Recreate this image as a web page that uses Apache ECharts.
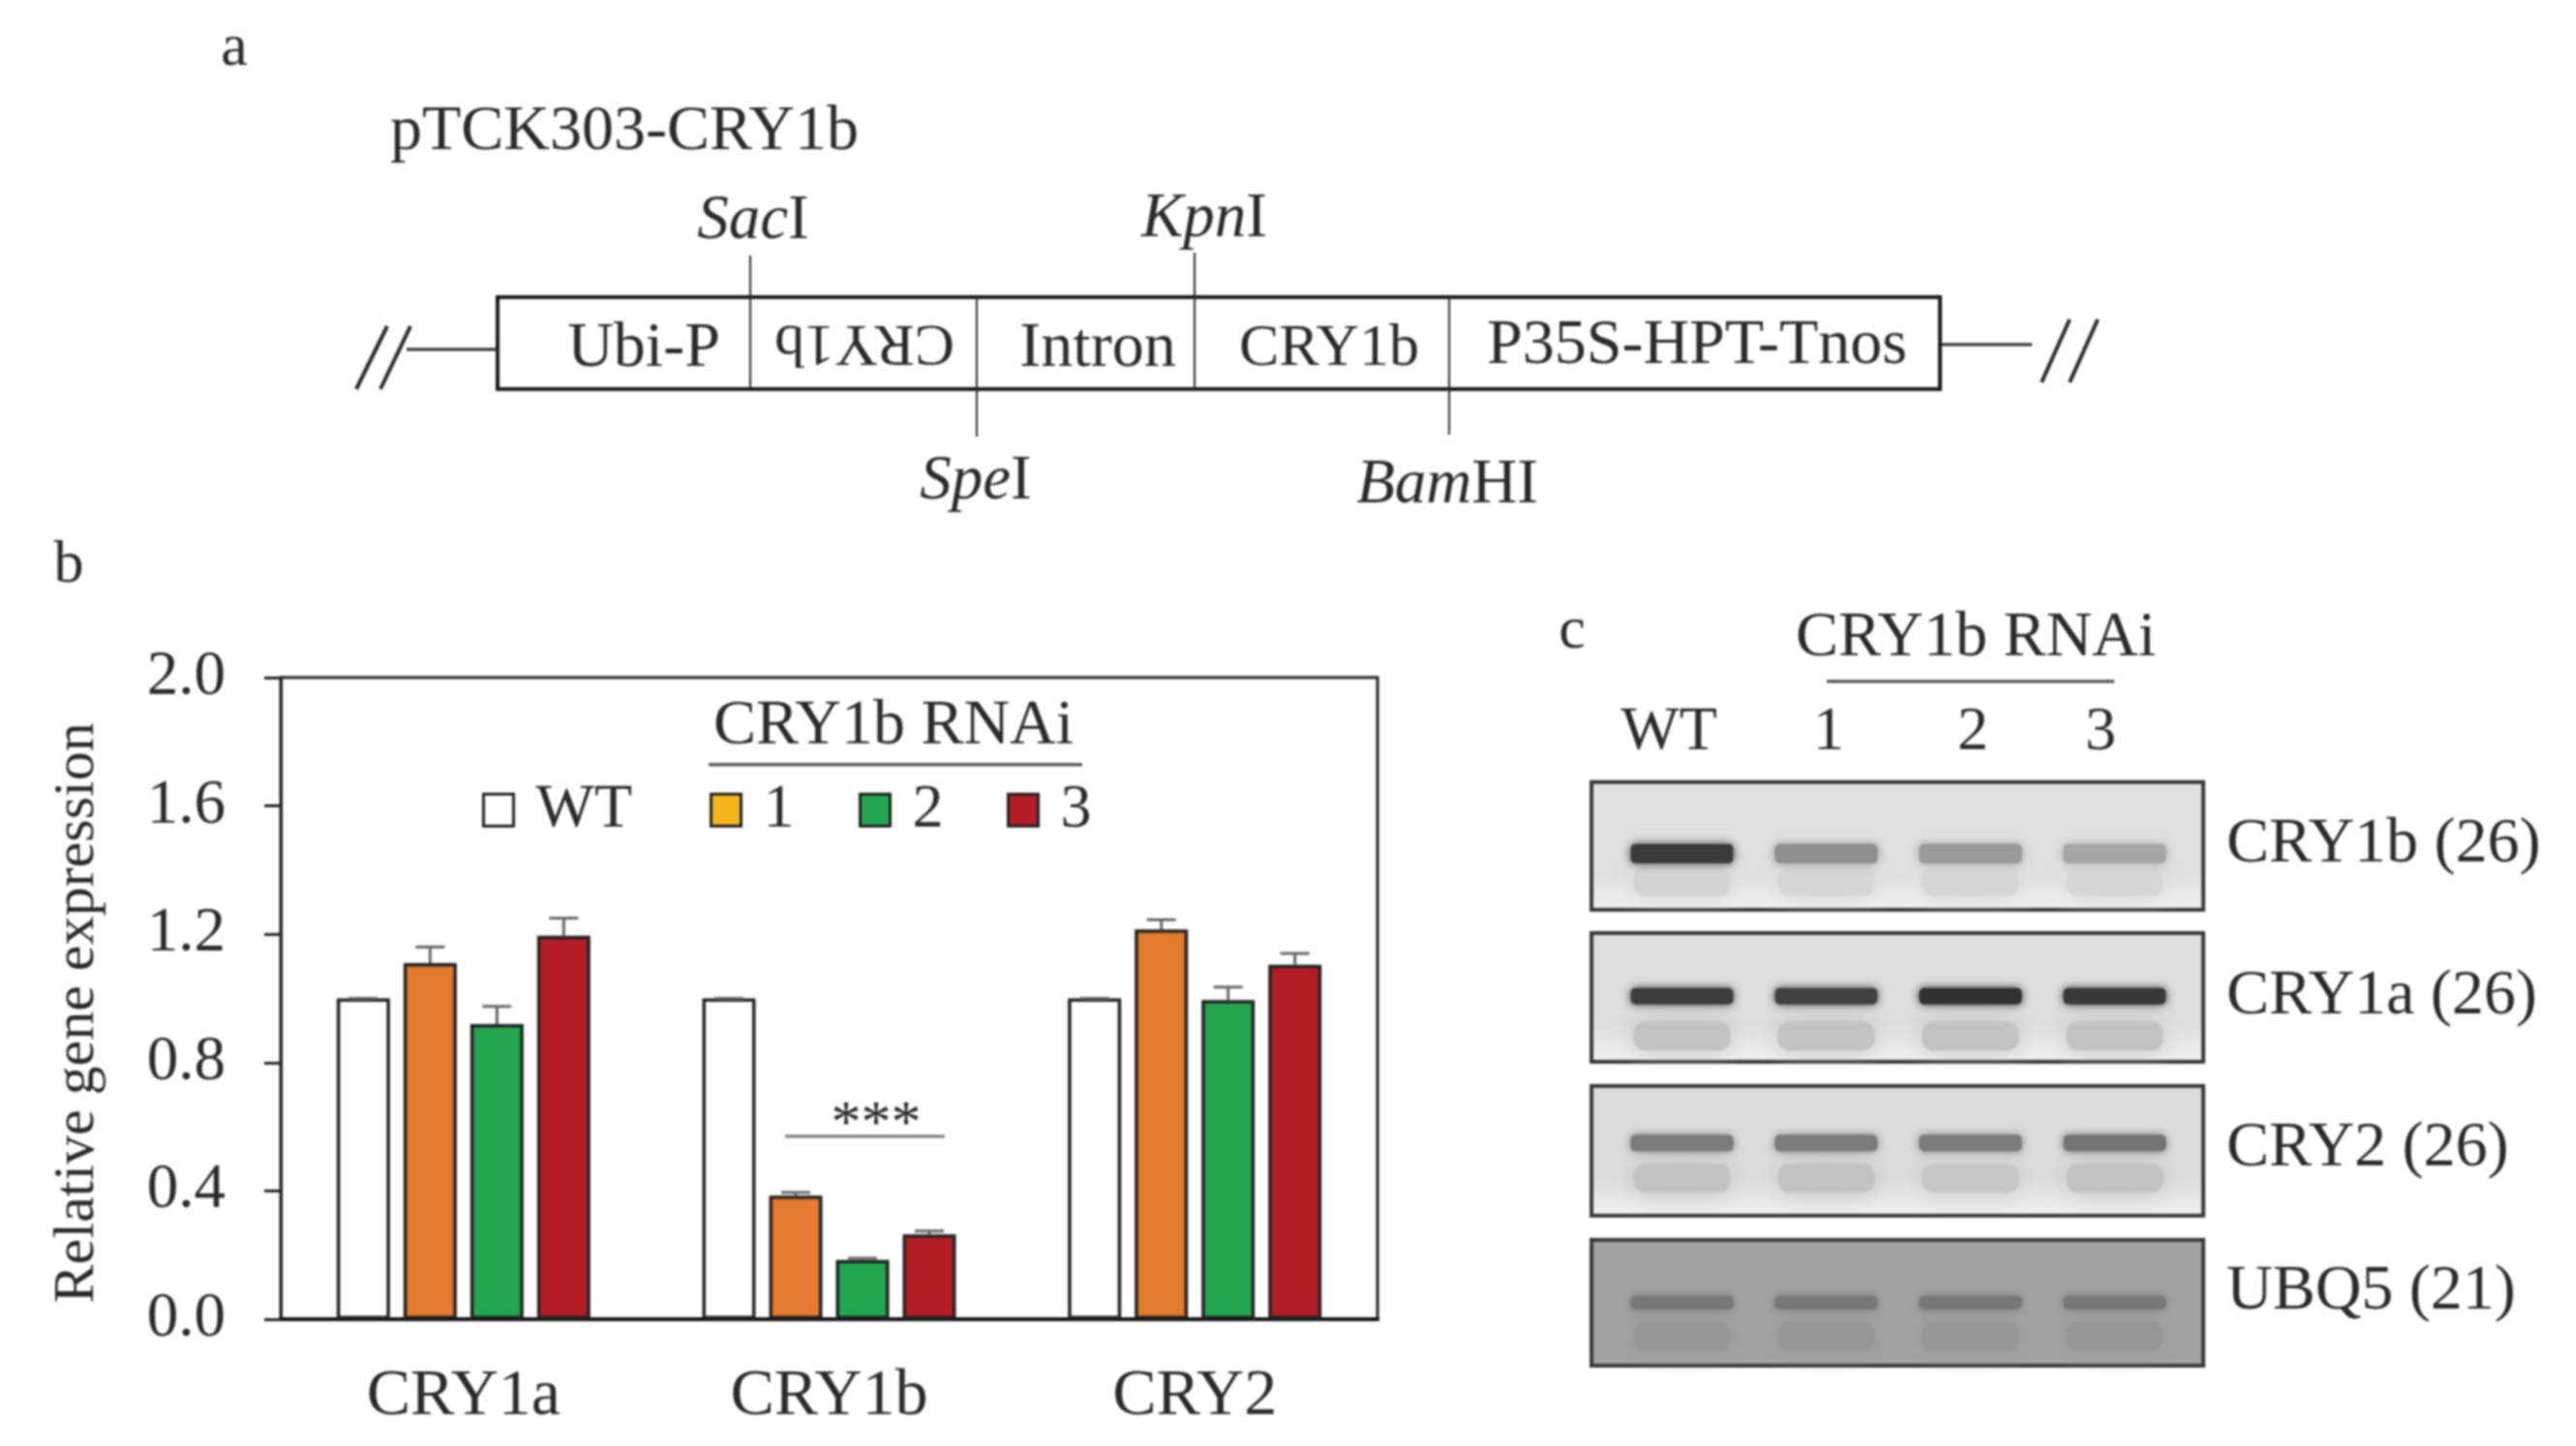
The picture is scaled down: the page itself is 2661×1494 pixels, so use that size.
<!DOCTYPE html>
<html><head><meta charset="utf-8">
<style>html,body{margin:0;padding:0;background:#fff}#c{width:2661px;height:1494px;filter:blur(0.8px)}</style>
<script src="https://cdn.jsdelivr.net/npm/echarts@6/dist/echarts.min.js"></script>
</head><body><div id="c"></div>
<script>
const genes = ['CRY1a', 'CRY1b', 'CRY2'];
const wt = [1, 1, 1];
const line1 = [1.11, 0.385, 1.215];
const line2 = [0.92, 0.185, 0.995];
const line3 = [1.195, 0.265, 1.105];
const wtErr = [0, 0, 0];
const line1Err = [0.05, 0.01, 0.03];
const line2Err = [0.055, 0.005, 0.04];
const line3Err = [0.055, 0.01, 0.035];
const yTicks = { min: 0, max: 2, interval: 0.4 };
const seriesNames = ['WT', '1', '2', '3'];
const lanes = ['WT', '1', '2', '3'];
const gelNames = ['CRY1b (26)', 'CRY1a (26)', 'CRY2 (26)', 'UBQ5 (21)'];
const gelMain = [
  [0.85, 0.42, 0.36, 0.30],
  [0.84, 0.82, 0.90, 0.86],
  [0.52, 0.52, 0.52, 0.56],
  [0.32, 0.32, 0.32, 0.32]
];
const gelFaint = [
  [0.06, 0.05, 0.05, 0.05],
  [0.15, 0.15, 0.15, 0.15],
  [0.15, 0.15, 0.13, 0.15],
  [0.08, 0.08, 0.08, 0.08]
];

/* ---- layout and style, separate from the values ---- */
const FONT = '"Liberation Serif","Times New Roman",serif';
const INK = '#2a2a2a';
const PLOT = { left: 290, right: 1423, top: 700, bottom: 1363 };
const BAR_W = 55, BAR_GAP = 14, PITCH = BAR_W + BAR_GAP;
const barColors = ['#ffffff', '#e27b2f', '#22a650', '#b21c25'];
const legendSwatch = ['#ffffff', '#f4b61c', '#22a650', '#b21c25'];
const legendPos = [[498, 805], [733, 805], [887, 805], [1040, 805]];
const panels = [[808, 940], [964, 1097], [1122, 1256], [1281, 1411]];
const panelFill = ['#e0e0e0', '#dedede', '#dcdcdc', '#a2a2a2'];
const mainY = [0.56, 0.49, 0.44, 0.50];
const faintY = [0.78, 0.80, 0.71, 0.77];
const mainH = [20, 17, 17, 14];
const LANE_LEFT = 1663, LANE_W = 149;
const SMALL = 66;

function T(x, y, text, size, extra) {
  return { type: 'text', x, y: y + 3, z: 10, style: Object.assign({
    text, fill: INK, font: size + 'px ' + FONT, align: 'center', verticalAlign: 'middle' }, extra || {}) };
}
function L(x1, y1, x2, y2, w, color) {
  return { type: 'line', z: 9, shape: { x1, y1, x2, y2 }, style: { stroke: color || INK, lineWidth: w } };
}
function enzyme(x, y, it, rm) {
  return T(x, y, '{i|' + it + '}{r|' + rm + '}', 65, {
    rich: { i: { font: 'italic 65px ' + FONT, fill: INK }, r: { font: '65px ' + FONT, fill: INK } } });
}

const graphics = [
  T(242, 48, 'a', 62), T(71, 582, 'b', 62), T(1624, 650, 'c', 62),
  T(645, 134, 'pTCK303-CRY1b', SMALL),
  enzyme(778, 226, 'Sac', 'I'), enzyme(1244, 224, 'Kpn', 'I'),
  enzyme(1008, 495, 'Spe', 'I'), enzyme(1495, 499, 'Bam', 'HI'),
  { type: 'rect', z: 8, shape: { x: 514, y: 307, width: 1490, height: 95 }, style: { fill: '#fff', stroke: '#1a1a1a', lineWidth: 4 } },
  L(775, 264, 775, 402, 2), L(1009, 306, 1009, 451, 2), L(1234, 261, 1234, 402, 2), L(1497, 306, 1497, 449, 2),
  L(420, 361, 514, 361, 3), L(2006, 356, 2099, 356, 3),
  L(368, 402, 400, 337, 4), L(393, 402, 424, 337, 4), L(2109, 395, 2138, 330, 4), L(2138, 395, 2167, 330, 4),
  T(665, 358, 'Ubi-P', SMALL), T(1134, 358, 'Intron', SMALL), T(1373, 358, 'CRY1b', 62), T(1753, 355, 'P35S-HPT-Tnos', SMALL),
  { type: 'text', x: 893, y: 353, rotation: Math.PI, z: 10, style: { text: 'CRY1b', fill: INK, font: '62px ' + FONT, align: 'center', verticalAlign: 'middle' } },
  T(923, 748, 'CRY1b RNAi', SMALL), L(732, 790, 1118, 790, 3, '#444'),
  T(905, 1160, '***', 62), L(811, 1174, 976, 1174, 3, '#777'),
  T(2041, 657, 'CRY1b RNAi', SMALL), L(1887, 704, 2184, 704, 3, '#444'),
  T(1724, 754, 'WT', 64), T(1889, 754, '1', 64), T(2038, 754, '2', 64), T(2170, 754, '3', 64)
];
panels.forEach((p, i) => {
  graphics.push({ type: 'rect', z: 1, shape: { x: 1644, y: p[0], width: 632, height: p[1] - p[0] },
    style: { fill: i === 3 ? panelFill[i] : { type: 'linear', x: 0, y: 0, x2: 0, y2: 1, colorStops: [
      { offset: 0, color: panelFill[i] }, { offset: 0.7, color: panelFill[i] }, { offset: 1, color: '#f2f2f2' }] },
      stroke: '#3a3a3a', lineWidth: 4 } });
  graphics.push(T(2300, [870, 1027, 1184, 1332][i], gelNames[i], SMALL, { align: 'left' }));
});

function errorSeries(name, vals, errs, idx) {
  return {
    type: 'custom', name: name + ' error', silent: true, z: 3,
    data: genes.map((g, k) => [k, vals[k], errs[k]]),
    encode: { x: 0, y: 1 },
    renderItem(params, api) {
      const c = api.value(0), v = api.value(1), e = api.value(2);
      const x = api.coord([c, 0])[0] + (idx - 1.5) * PITCH;
      const y0 = api.coord([c, v])[1], y1 = api.coord([c, v + e])[1];
      const st = { stroke: '#666', lineWidth: 3 };
      return { type: 'group', children: [
        { type: 'line', shape: { x1: x, y1: y0, x2: x, y2: y1 }, style: st },
        { type: 'line', shape: { x1: x - 15, y1: y1, x2: x + 15, y2: y1 }, style: st }
      ] };
    }
  };
}
function barSeries(name, vals, idx) {
  return { type: 'bar', name, data: vals, barWidth: BAR_W, barGap: (BAR_GAP / BAR_W * 100) + '%',
    itemStyle: { color: barColors[idx], borderColor: '#222', borderWidth: 3.5 }, silent: true, animation: false };
}
function gelSeries(g) {
  return {
    type: 'custom', name: gelNames[g], xAxisIndex: g + 1, yAxisIndex: g + 1, silent: true, z: 5,
    data: lanes.map((l, k) => [k, 0.5, gelMain[g][k], gelFaint[g][k]]),
    encode: { x: 0, y: 1 },
    renderItem(params, api) {
      const k = api.value(0), m = api.value(2), f = api.value(3);
      const cx = api.coord([k, 0])[0];
      const base = g === 3 ? 162 : 224;
      const grey = d => { const v = Math.round(base - (base - 30) * d); return 'rgb(' + v + ',' + v + ',' + v + ')'; };
      const top = panels[g][0], h = panels[g][1] - top;
      const ym = top + h * mainY[g], yf = top + h * faintY[g];
      const w = 112;
      return { type: 'group', children: [
        { type: 'rect', shape: { x: cx - w / 2 + 6, y: yf - 15, width: w - 12, height: 30, r: 12 },
          style: { fill: grey(f), shadowBlur: 24, shadowColor: grey(f) } },
        { type: 'rect', shape: { x: cx - w / 2 + 3, y: ym - mainH[g] / 2, width: w - 6, height: mainH[g], r: 5 },
          style: { fill: grey(m), shadowBlur: 10, shadowColor: grey(m) } }
      ] };
    }
  };
}
const gelIdx = [0, 1, 2, 3];
const option = {
  animation: false,
  backgroundColor: '#fff',
  textStyle: { fontFamily: FONT },
  grid: [{ left: PLOT.left, top: PLOT.top, width: PLOT.right - PLOT.left, height: PLOT.bottom - PLOT.top,
           show: true, borderColor: '#222', borderWidth: 3, backgroundColor: 'transparent' }]
    .concat(gelIdx.map(g => ({ left: LANE_LEFT, width: LANE_W * 4, top: panels[g][0], height: panels[g][1] - panels[g][0] }))),
  xAxis: [{ type: 'category', data: genes, gridIndex: 0, axisTick: { show: false },
            axisLine: { lineStyle: { color: '#111', width: 4 } },
            axisLabel: { color: INK, fontSize: 68, margin: 46, fontFamily: FONT } }]
    .concat(gelIdx.map(g => ({ type: 'category', data: lanes, gridIndex: g + 1, show: false }))),
  yAxis: [{ type: 'value', gridIndex: 0, min: yTicks.min, max: yTicks.max, interval: yTicks.interval,
            name: 'Relative gene expression', nameLocation: 'middle', nameGap: 180,
            nameTextStyle: { color: INK, fontSize: 60, fontFamily: FONT, padding: [0, 30, 0, 0] },
            splitLine: { show: false },
            axisLine: { show: true, lineStyle: { color: '#222', width: 3 } },
            axisTick: { show: true, length: 17, lineStyle: { color: '#222', width: 3 } },
            axisLabel: { color: INK, fontSize: 65, margin: 57, fontFamily: FONT, padding: [6, 0, 0, 0], formatter: v => v.toFixed(1) } }]
    .concat(gelIdx.map(g => ({ type: 'value', gridIndex: g + 1, min: 0, max: 1, show: false }))),
  legend: seriesNames.map((n, i) => ({
    left: legendPos[i][0], top: legendPos[i][1], orient: 'horizontal', selectedMode: false,
    itemWidth: 31, itemHeight: 33, itemGap: 0, padding: 0, icon: 'rect',
    textStyle: { color: INK, fontSize: 64, fontFamily: FONT, padding: [0, 0, 0, 18] },
    data: [{ name: n, itemStyle: { color: legendSwatch[i], borderColor: '#222', borderWidth: 3 } }]
  })),
  graphic: { elements: graphics },
  series: [
    barSeries(seriesNames[0], wt, 0), barSeries(seriesNames[1], line1, 1),
    barSeries(seriesNames[2], line2, 2), barSeries(seriesNames[3], line3, 3),
    errorSeries('WT', wt, wtErr, 0), errorSeries('1', line1, line1Err, 1),
    errorSeries('2', line2, line2Err, 2), errorSeries('3', line3, line3Err, 3)
  ].concat(gelIdx.map(gelSeries))
};
echarts.init(document.getElementById('c'), null, { renderer: 'canvas' }).setOption(option);
</script></body></html>
